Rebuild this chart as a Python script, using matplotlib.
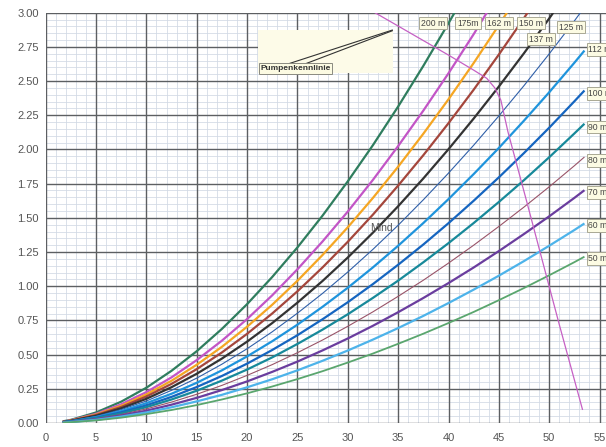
import matplotlib
matplotlib.use("Agg")
import matplotlib.pyplot as plt
from matplotlib.ticker import MultipleLocator, NullFormatter
from matplotlib.patches import Rectangle

plt.rcParams['font.family'] = ['Liberation Sans', 'DejaVu Sans']

# ---------------- data ----------------
q_std = [1.7, 2.5, 5, 7.5, 10, 12.5, 15, 17.5, 20, 22.5, 25, 27.5, 30, 32.5, 35,
         37.5, 40, 42.5, 45, 47.5, 50, 52.5, 53.5]

q_200 = [1.7, 2.5, 5, 7.5, 10, 12.5, 15, 17.5, 20, 22.5, 25, 27.5, 30, 32.5, 35,
         37.5, 40, 40.6]
h_200 = [0.012, 0.023, 0.077, 0.156, 0.258, 0.382, 0.525, 0.688, 0.869, 1.068, 1.284,
         1.517, 1.767, 2.032, 2.314, 2.611, 2.923, 3.0]

q_175 = [1.7, 2.5, 5, 7.5, 10, 12.5, 15, 17.5, 20, 22.5, 25, 27.5, 30, 32.5, 35,
         37.5, 40, 42.5, 43.8]
h_175 = [0.010, 0.020, 0.067, 0.137, 0.226, 0.334, 0.460, 0.602, 0.760, 0.934, 1.124,
         1.328, 1.546, 1.778, 2.025, 2.284, 2.557, 2.843, 3.0]

q_162 = [1.7, 2.5, 5, 7.5, 10, 12.5, 15, 17.5, 20, 22.5, 25, 27.5, 30, 32.5, 35,
         37.5, 40, 42.5, 45, 45.8]
h_162 = [0.009, 0.018, 0.062, 0.126, 0.209, 0.309, 0.426, 0.557, 0.704, 0.865, 1.040,
         1.229, 1.431, 1.646, 1.874, 2.115, 2.367, 2.632, 2.909, 3.0]

q_150 = [1.7, 2.5, 5, 7.5, 10, 12.5, 15, 17.5, 20, 22.5, 25, 27.5, 30, 32.5, 35,
         37.5, 40, 42.5, 45, 47.5, 47.85]
h_150 = [0.009, 0.017, 0.058, 0.117, 0.194, 0.286, 0.394, 0.516, 0.652, 0.801, 0.963,
         1.138, 1.325, 1.524, 1.736, 1.958, 2.192, 2.437, 2.694, 2.961, 3.0]

q_137 = [1.7, 2.5, 5, 7.5, 10, 12.5, 15, 17.5, 20, 22.5, 25, 27.5, 30, 32.5, 35,
         37.5, 40, 42.5, 45, 47.5, 50, 50.4]
h_137 = [0.008, 0.016, 0.053, 0.107, 0.177, 0.262, 0.360, 0.471, 0.595, 0.731, 0.880,
         1.039, 1.210, 1.392, 1.585, 1.788, 2.002, 2.226, 2.460, 2.704, 2.958, 3.0]

q_125 = [1.7, 2.5, 5, 7.5, 10, 12.5, 15, 17.5, 20, 22.5, 25, 27.5, 30, 32.5, 35,
         37.5, 40, 42.5, 45, 47.5, 50, 52.5, 53.1]
h_125 = [0.007, 0.014, 0.048, 0.098, 0.161, 0.239, 0.328, 0.430, 0.543, 0.667, 0.803,
         0.948, 1.104, 1.270, 1.446, 1.632, 1.827, 2.031, 2.245, 2.467, 2.699, 2.940, 3.0]

h_112 = [0.007, 0.013, 0.043, 0.087, 0.145, 0.214, 0.294, 0.385, 0.487, 0.598, 0.719,
         0.850, 0.989, 1.138, 1.296, 1.462, 1.637, 1.820, 2.011, 2.211, 2.418, 2.634, 2.723]
h_100 = [0.006, 0.011, 0.038, 0.078, 0.129, 0.191, 0.263, 0.344, 0.434, 0.534, 0.642,
         0.759, 0.883, 1.016, 1.157, 1.305, 1.461, 1.625, 1.796, 1.974, 2.159, 2.352, 2.431]
h_90 = [0.005, 0.010, 0.035, 0.070, 0.116, 0.172, 0.236, 0.310, 0.391, 0.480, 0.578,
        0.683, 0.795, 0.915, 1.041, 1.175, 1.315, 1.462, 1.616, 1.776, 1.943, 2.117, 2.188]
h_80 = [0.005, 0.009, 0.031, 0.062, 0.103, 0.153, 0.210, 0.275, 0.348, 0.427, 0.514,
        0.607, 0.707, 0.813, 0.926, 1.044, 1.169, 1.300, 1.437, 1.579, 1.727, 1.881, 1.945]
h_70 = [0.004, 0.008, 0.027, 0.055, 0.090, 0.134, 0.184, 0.241, 0.304, 0.374, 0.449,
        0.531, 0.618, 0.711, 0.810, 0.914, 1.023, 1.137, 1.257, 1.382, 1.511, 1.646, 1.702]
h_60 = [0.003, 0.007, 0.023, 0.047, 0.077, 0.115, 0.158, 0.206, 0.261, 0.320, 0.385,
        0.455, 0.530, 0.610, 0.694, 0.783, 0.877, 0.975, 1.077, 1.184, 1.296, 1.411, 1.459]
h_50 = [0.003, 0.006, 0.019, 0.039, 0.065, 0.095, 0.131, 0.172, 0.217, 0.267, 0.321,
        0.379, 0.442, 0.508, 0.579, 0.653, 0.731, 0.812, 0.898, 0.987, 1.080, 1.176, 1.216]

pump_q = [32.7, 36, 40, 42.5, 43.8, 44.6, 45.2, 45.9, 47.8, 50.1, 51.0, 53.3]
pump_h = [3.0, 2.86, 2.69, 2.58, 2.52, 2.45, 2.36, 2.13, 1.61, 0.97, 0.72, 0.10]

labels_top = ["200 m", "175m", "162 m", "150 m", "137 m", "125 m"]
labels_right = ["112 m", "100 m", "90 m", "80 m", "70 m", "60 m", "50 m"]
x_ticks = [0, 5, 10, 15, 20, 25, 30, 35, 40, 45, 50, 55]
y_ticks = [0.00, 0.25, 0.50, 0.75, 1.00, 1.25, 1.50, 1.75, 2.00, 2.25, 2.50, 2.75, 3.00]

# ---------------- styles ----------------
top_series = [(q_200, h_200, '#2f7d5e', 1.6), (q_175, h_175, '#c255c6', 1.6),
              (q_162, h_162, '#f5a623', 1.6), (q_150, h_150, '#a4463c', 1.6),
              (q_137, h_137, '#333333', 1.6), (q_125, h_125, '#2f5fa8', 0.8)]
right_series = [(h_112, '#1f94dc', 1.6), (h_100, '#1565c0', 1.6), (h_90, '#17899a', 1.6),
                (h_80, '#995468', 0.8), (h_70, '#6a3d9e', 1.6), (h_60, '#4db3ea', 1.6),
                (h_50, '#5aa66e', 1.3)]

top_label_pos = [(38.46, 2.924), (41.94, 2.924), (45.01, 2.924), (48.19, 2.924),
                 (49.16, 2.807), (52.16, 2.895)]
right_label_y = [2.730, 2.412, 2.164, 1.922, 1.685, 1.442, 1.202]

rect = [0.0754, 0.0537, 0.9246, 0.9179]
fig = plt.figure(figsize=(6.06, 4.47), dpi=100)

# background axes: minor graph-paper grid
ax_bg = fig.add_axes(rect, zorder=0)
ax_bg.set_xlim(0, 55.64)
ax_bg.set_ylim(0, 3.0)
ax_bg.xaxis.set_minor_locator(MultipleLocator(1))
ax_bg.yaxis.set_minor_locator(MultipleLocator(0.05))
ax_bg.set_xticks([])
ax_bg.set_yticks([])
ax_bg.grid(which='minor', color='#d1d9e4', lw=0.55)
ax_bg.tick_params(which='both', length=0)
ax_bg.xaxis.set_minor_formatter(NullFormatter())
ax_bg.yaxis.set_minor_formatter(NullFormatter())
for s in ax_bg.spines.values():
    s.set_visible(False)

# main axes
ax = fig.add_axes(rect, zorder=1)
ax.patch.set_visible(False)
ax.set_xlim(0, 55.64)
ax.set_ylim(0, 3.0)
ax.set_xticks(x_ticks)
ax.set_xticklabels([str(v) for v in x_ticks])
ax.set_yticks(y_ticks)
ax.set_yticklabels([f"{v:.2f}" for v in y_ticks])
ax.grid(which='major', color='#5c5f62', lw=1.0)
ax.set_axisbelow(True)
ax.tick_params(which='both', length=0)
ax.tick_params(axis='x', pad=7, labelsize=8, labelcolor='#555555')
ax.tick_params(axis='y', pad=5, labelsize=8, labelcolor='#555555')
for s in ax.spines.values():
    s.set_visible(False)

bbox_style = dict(boxstyle='square,pad=0.22', fc='#fcfbe3', ec='#a9a894', lw=0.7)

for (q, h, c, lw), lab, (lx, ly) in zip(top_series, labels_top, top_label_pos):
    ax.plot(q, h, color=c, lw=lw, zorder=3, solid_capstyle='butt')
    ax.text(lx, ly, lab, fontsize=6.2, color='#444444', ha='center', va='center',
            bbox=bbox_style, zorder=5)

for (h, c, lw), lab, ly in zip(right_series, labels_right, right_label_y):
    ax.plot(q_std, h, color=c, lw=lw, zorder=3, solid_capstyle='butt')
    ax.text(53.9, ly, lab, fontsize=6.2, color='#444444', ha='left', va='center',
            bbox=bbox_style, zorder=5, clip_on=False)

ax.plot(pump_q, pump_h, color='#c660c4', lw=0.9, zorder=4)

# Pumpenkennlinie callout
ax.add_patch(Rectangle((21.11, 2.556), 34.52 - 21.11, 2.873 - 2.556,
                       fc='#fdfbe8', ec='none', zorder=2))
ax.plot([24.26, 34.42], [2.63, 2.873], color='#333333', lw=0.8, zorder=4)
ax.plot([25.92, 34.42], [2.63, 2.868], color='#333333', lw=0.8, zorder=4)
ax.text(24.8, 2.593, "Pumpenkennlinie", fontsize=6, fontweight='bold', color='#333333',
        ha='center', va='center', zorder=5,
        bbox=dict(boxstyle='square,pad=0.2', fc='#fcfbe3', ec='#8a8a80', lw=0.7))

ax.text(33.3, 1.425, "Mind", fontsize=7.5, color='#555555', ha='center', va='center', zorder=5)

fig.savefig("out.png", dpi=100)
